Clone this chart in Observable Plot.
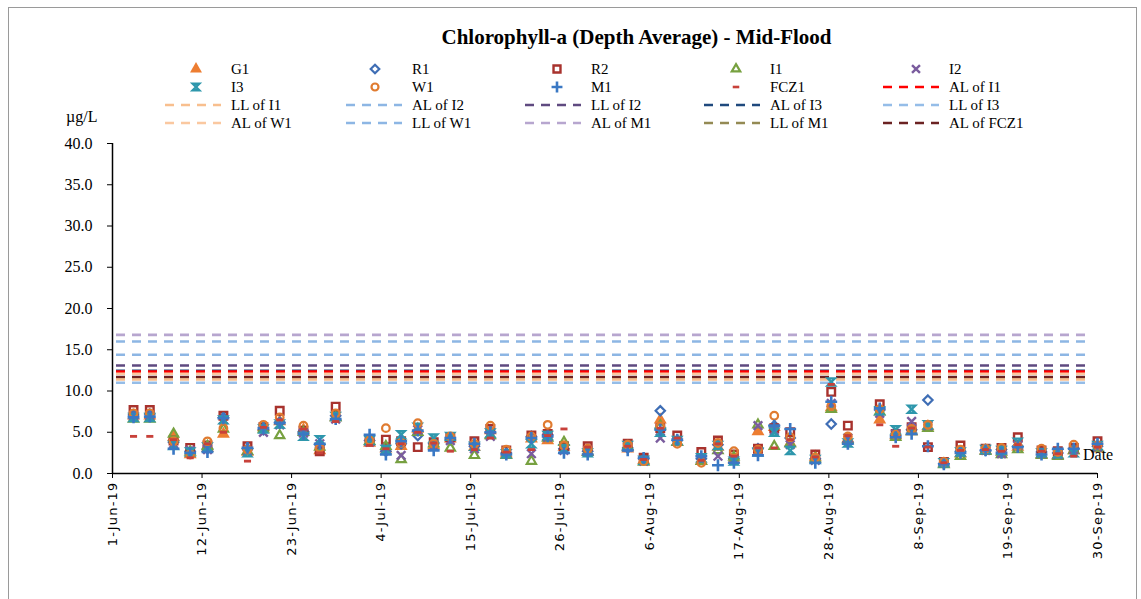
<!DOCTYPE html>
<html>
<head>
<meta charset="utf-8">
<script src="https://cdn.jsdelivr.net/npm/d3@7"></script>
<script src="https://cdn.jsdelivr.net/npm/@observablehq/plot@0.6"></script>
<style>
  html, body { margin: 0; padding: 0; background: #fff; }
  #wrap { position: relative; width: 1141px; height: 599px; overflow: hidden; font-family: "Liberation Serif", serif; }
  #frame { position: absolute; left: 8px; top: 7px; width: 1129px; height: 640px; border: 1px solid #9a9a9a; box-sizing: border-box; }
  #chart { position: absolute; left: 0; top: 0; }
  #legend { position: absolute; left: 0; top: 0; }
  .lbl { position: absolute; color: #000; white-space: nowrap; }
</style>
</head>
<body>
<div id="wrap">
  <div id="frame"></div>
  <div id="chart"></div>
  <svg id="legend" width="1141" height="140"></svg>
  <div class="lbl" style="left:0;width:1273px;top:25px;text-align:center;font-weight:bold;font-size:21px;">Chlorophyll-a (Depth Average) - Mid-Flood</div>
  <div class="lbl" style="left:66px;top:108px;font-size:16px;">µg/L</div>
  <div class="lbl" style="left:1083px;top:446px;font-size:16px;">Date</div>
</div>
<script>
// ---- data ----
const dates = [
  "2019-06-03 14:00","2019-06-05 14:00","2019-06-08 12:00","2019-06-10 13:00","2019-06-12 16:00",
  "2019-06-14 15:00","2019-06-17 14:00","2019-06-19 13:00","2019-06-21 13:00","2019-06-24 11:00",
  "2019-06-26 11:00","2019-06-28 10:00","2019-07-02 14:00","2019-07-04 14:00","2019-07-06 11:00",
  "2019-07-08 12:00","2019-07-10 11:00","2019-07-12 12:00","2019-07-15 11:00","2019-07-17 10:00",
  "2019-07-19 09:00","2019-07-22 11:00","2019-07-24 11:00","2019-07-26 11:00","2019-07-29 09:00",
  "2019-08-03 07:00","2019-08-05 06:00","2019-08-07 07:00","2019-08-09 09:00","2019-08-12 08:00",
  "2019-08-14 09:00","2019-08-16 08:00","2019-08-19 07:00","2019-08-21 07:00","2019-08-23 06:00",
  "2019-08-26 08:00","2019-08-28 07:00","2019-08-30 08:00","2019-09-03 06:00","2019-09-05 05:00",
  "2019-09-07 04:00","2019-09-09 04:00","2019-09-11 03:00","2019-09-13 04:00","2019-09-16 06:00",
  "2019-09-18 05:00","2019-09-20 05:00","2019-09-23 03:00","2019-09-25 03:00","2019-09-27 02:00",
  "2019-09-30 00:00"
];
const G1 = [7.0,7.0,4.4,2.3,3.1,4.8,2.6,5.6,6.3,5.3,2.8,6.8,3.7,3.0,3.3,5.4,3.4,4.2,3.2,5.2,2.4,4.2,4.0,3.2,2.6,
            3.0,1.6,6.5,3.8,1.5,3.2,1.7,5.1,5.6,3.7,2.0,8.0,4.2,6.5,4.6,5.1,5.7,1.2,2.4,2.8,2.6,3.2,2.3,2.2,2.8,3.0];
const R1 = [7.1,7.2,3.8,2.7,3.0,6.8,3.0,5.3,6.2,5.1,3.5,7.0,4.0,2.7,3.6,4.6,3.6,4.1,3.3,5.0,2.5,4.5,4.7,3.0,2.7,
            3.1,1.8,7.6,4.0,1.8,3.5,1.8,3.0,5.8,4.3,1.8,6.0,3.8,7.7,4.6,5.3,8.9,1.2,2.7,2.8,2.9,3.3,2.6,2.5,3.0,3.3];
const R2 = [7.7,7.7,4.0,3.1,3.4,7.0,3.3,5.6,7.6,5.2,2.7,8.1,4.0,4.1,3.9,3.2,3.8,4.4,3.9,5.4,2.8,4.6,4.8,3.3,3.3,
            3.6,1.9,5.5,4.6,2.6,4.0,2.3,3.0,5.5,5.0,2.3,9.9,5.8,8.4,4.8,5.6,3.2,1.4,3.4,3.0,3.1,4.4,2.8,2.7,3.1,3.9];
const I1 = [6.6,6.6,4.8,2.6,3.3,5.4,2.7,5.4,4.6,5.0,3.2,6.8,3.9,3.3,1.7,5.0,3.6,3.1,2.2,4.6,2.2,1.5,4.3,3.8,2.6,
            3.2,1.4,5.8,3.8,1.5,2.8,2.0,5.9,3.3,3.6,1.8,7.8,4.0,7.5,4.4,5.1,5.5,1.1,2.1,2.7,2.3,2.9,2.2,2.1,2.8,3.1];
const I2 = [7.0,7.0,3.6,2.8,2.9,6.5,2.7,5.0,5.9,4.9,3.6,6.6,3.8,3.0,2.2,5.3,3.3,4.0,3.0,4.5,2.4,2.4,4.4,2.8,2.8,
            3.2,1.5,4.3,3.9,1.7,2.1,1.6,5.8,5.2,3.5,1.6,8.5,4.3,7.3,4.8,6.3,5.8,1.3,2.6,2.8,2.4,3.4,2.4,2.3,2.9,3.2];
const I3 = [6.8,6.8,3.4,2.6,3.2,6.5,2.5,5.4,6.0,4.5,4.1,6.9,4.0,2.9,4.7,5.6,4.3,4.5,3.3,4.9,2.4,3.6,4.6,3.0,2.5,
            3.4,1.6,5.0,4.0,1.9,3.4,1.5,2.6,5.0,2.8,1.7,11.1,3.7,7.6,5.3,7.8,5.9,1.3,2.6,2.9,2.8,3.8,2.5,2.4,2.5,3.4];
const W1 = [7.3,7.3,3.9,2.3,3.9,5.5,2.9,5.9,6.8,5.8,3.1,7.3,4.0,5.5,3.7,6.1,3.6,4.5,3.6,5.8,2.9,4.5,5.9,3.4,3.0,
            3.5,1.5,5.7,3.6,1.3,3.7,2.7,2.9,7.0,4.4,1.9,8.2,4.5,7.8,4.7,5.4,5.9,1.4,2.9,3.0,3.1,3.3,3.0,2.6,3.5,3.4];
const M1 = [6.8,6.9,3.0,2.5,2.6,6.7,3.1,5.5,6.1,4.8,3.6,6.6,4.7,2.3,3.9,5.2,2.8,4.3,3.6,5.0,2.3,4.3,4.5,2.5,2.3,
            2.8,1.9,5.3,4.1,2.1,1.0,1.3,2.2,5.8,5.4,1.3,8.7,3.6,7.9,4.4,4.8,3.3,1.1,2.5,2.8,2.5,3.2,2.3,3.0,3.0,3.6];
const FCZ1 = [4.5,4.5,4.1,1.9,3.6,5.0,1.5,5.6,6.5,5.4,2.5,6.3,3.4,3.0,3.6,5.0,3.7,2.7,2.9,4.3,2.6,2.9,4.6,5.4,3.2,
              3.3,1.7,5.5,4.3,1.6,3.6,2.1,3.1,3.1,4.1,2.0,10.8,4.6,5.9,3.3,5.5,3.2,1.3,2.8,2.9,2.7,3.5,2.7,2.4,2.1,3.2];
const seriesNames = ["G1","R1","R2","I1","I2","I3","W1","M1","FCZ1"];
const seriesValues = [G1,R1,R2,I1,I2,I3,W1,M1,FCZ1];

const limitNames = ["AL of I1","LL of I1","AL of I2","LL of I2","AL of I3","LL of I3","AL of W1","LL of W1","AL of M1","LL of M1","AL of FCZ1"];
const limitValues = [12.35,11.4,16.0,13.1,12.45,11.0,12.1,14.4,16.8,11.65,11.7];

const yTicks = [0,5,10,15,20,25,30,35,40];
const xTickStart = "2019-06-01 00:00";
const xTickStepDays = 11;
const xTickCount = 12;

// ---- styles ----
const hourglass = { draw(ctx, size) { const s = Math.sqrt(size) / 2.2; ctx.moveTo(-s, -s); ctx.lineTo(s, -s); ctx.lineTo(-s, s); ctx.lineTo(s, s); ctx.closePath(); } };
const dashSym = { draw(ctx, size) { const s = Math.sqrt(size) / 2.2; ctx.rect(-s, -s * 0.4, 2 * s, s * 0.8); } };
const seriesStyle = {
  G1:   { symbol: "triangle", fill: "#ED7D31", stroke: "none", sw: 0, r: 4.8 },
  R1:   { symbol: "diamond2", fill: "none", stroke: "#3F6EB5", sw: 2.2, r: 4.2 },
  R2:   { symbol: "square2", fill: "none", stroke: "#A8322D", sw: 2.4, r: 4.8 },
  I1:   { symbol: "triangle2", fill: "none", stroke: "#77A140", sw: 2.2, r: 4.4 },
  I2:   { symbol: "times", fill: "none", stroke: "#7A5C9E", sw: 2.4, r: 4.0 },
  I3:   { symbol: hourglass, fill: "none", stroke: "#2E97AC", sw: 2.4, r: 4.4 },
  W1:   { symbol: "circle", fill: "none", stroke: "#E07B30", sw: 2.2, r: 3.8 },
  M1:   { symbol: "plus", fill: "none", stroke: "#3A78C4", sw: 2.6, r: 3.9 },
  FCZ1: { symbol: dashSym, fill: "#C8413A", stroke: "none", sw: 0, r: 4.4 }
};
const limitColors = {
  "AL of I1": "#FF0000", "LL of I1": "#F8BF8E", "AL of I2": "#8DB6E4", "LL of I2": "#5F4A80",
  "AL of I3": "#1F497D", "LL of I3": "#95BDE8", "AL of W1": "#FAC8A0", "LL of W1": "#8DB6E4",
  "AL of M1": "#B7A6CF", "LL of M1": "#948A54", "AL of FCZ1": "#6B2222"
};

// ---- build ----
const parse = d3.utcParse("%Y-%m-%d %H:%M");
const xStart = parse(xTickStart);
const xTicks = d3.range(xTickCount).map(i => d3.utcDay.offset(xStart, i * xTickStepDays));
const xDomain = [xTicks[0], xTicks[xTicks.length - 1]];

const points = [];
seriesNames.forEach((name, si) => {
  seriesValues[si].forEach((v, i) => points.push({ series: name, date: parse(dates[i]), value: v }));
});
const limits = limitNames.map((n, i) => ({ name: n, value: limitValues[i] }));
const ruleOrder = ["LL of M1","AL of I3","AL of M1","AL of I2","LL of W1","LL of I2","AL of I1","AL of W1","AL of FCZ1","LL of I1","LL of I3"];

const dotMarks = seriesNames.map(name => {
  const st = seriesStyle[name];
  return Plot.dot(points.filter(d => d.series === name), {
    x: "date", y: "value", symbol: () => st.symbol, r: st.r,
    fill: st.fill, stroke: st.stroke, strokeWidth: st.sw
  });
});
const ruleMarks = ruleOrder.map(n => Plot.ruleY(limits.filter(d => d.name === n), {
  y: "value", x1: xDomain[0], x2: d3.utcDay.offset(xDomain[1], -0.6),
  stroke: limitColors[n], strokeWidth: 2.6, strokeDasharray: "9,7", strokeDashoffset: -4
}));

const chart = Plot.plot({
  width: 1141, height: 599,
  marginLeft: 112, marginRight: 44, marginTop: 143, marginBottom: 126,
  style: { fontFamily: "Liberation Serif, serif", fontSize: "16px", color: "#000", background: "transparent" },
  x: { type: "utc", domain: xDomain },
  y: { domain: [0, 40] },
  marks: [
    Plot.axisY({ ticks: yTicks, tickFormat: d3.format(".1f"), tickSize: 5, tickPadding: 15, label: null, fontSize: 16, stroke: "#000" }),
    Plot.axisX({ ticks: xTicks, tickFormat: d3.utcFormat("%-d-%b-%y"), tickSize: 5, tickPadding: 3, tickRotate: -90, label: null,
                 fontFamily: "DejaVu Sans, sans-serif", fontSize: 13, stroke: "#000" }),
    ...ruleMarks,
    ...dotMarks,
    Plot.ruleX([xDomain[0]], { stroke: "#000", strokeWidth: 1.5 }),
    Plot.ruleY([0], { stroke: "#000", strokeWidth: 1.5, x1: xDomain[0], x2: d3.utcDay.offset(xDomain[1], 0.3) })
  ]
});
chart.querySelectorAll('g[aria-label="x-axis tick label"] text').forEach(t => t.setAttribute("letter-spacing", "1.2"));
document.getElementById("chart").appendChild(chart);

// ---- legend ----
const legendItems = [...seriesNames.map(n => ({ name: n, kind: "dot" })), ...limitNames.map(n => ({ name: n, kind: "line" }))];
const colMarker = [196, 375, 557, 736, 916];
const colText = [231, 412, 591, 770, 949];
const rowY = [69, 87, 105, 123];
const lg = d3.select("#legend");
legendItems.forEach((it, i) => {
  const c = i % 5, r = Math.floor(i / 5);
  const y = rowY[r];
  if (it.kind === "dot") {
    const st = seriesStyle[it.name];
    let type = st.symbol;
    if (typeof type === "string") {
      const map = { triangle: d3.symbolTriangle, diamond2: d3.symbolDiamond2, square2: d3.symbolSquare2, triangle2: d3.symbolTriangle2,
                    times: d3.symbolTimes, circle: d3.symbolCircle, plus: d3.symbolPlus };
      type = map[type];
    }
    lg.append("path").attr("transform", `translate(${colMarker[c]},${y})`)
      .attr("d", d3.symbol(type, Math.PI * st.r * st.r * 0.85)())
      .attr("fill", st.fill).attr("stroke", st.stroke).attr("stroke-width", st.sw);
  } else {
    lg.append("line").attr("x1", colText[c] - 66).attr("x2", colText[c] - 10).attr("y1", y).attr("y2", y)
      .attr("stroke", limitColors[it.name]).attr("stroke-width", 2.6).attr("stroke-dasharray", "9,7");
  }
  lg.append("text").attr("x", colText[c]).attr("y", y + 5)
    .attr("font-family", "Liberation Serif, serif").attr("font-size", 15).attr("fill", "#000").text(it.name);
});
</script>
</body>
</html>
